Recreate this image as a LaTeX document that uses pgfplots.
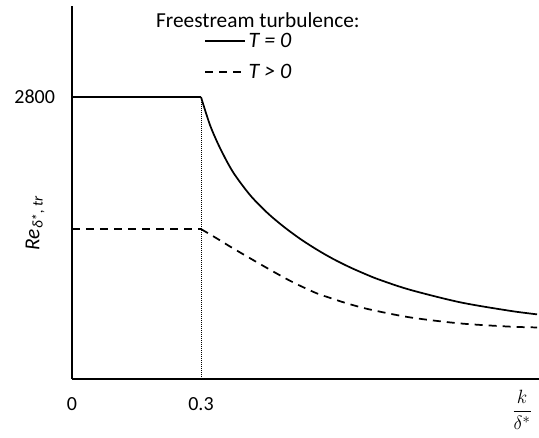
\documentclass[border=0pt]{standalone}
\usepackage{fontspec}
\setmainfont{Carlito}
\usepackage{pgfplots}
\pgfplotsset{compat=1.18}
\begin{document}
\begin{tikzpicture}
\useasboundingbox (0,0) rectangle (404.25pt,327.75pt);
\begin{axis}[
  at={(54pt,43.5pt)}, anchor=south west,
  scale only axis, width=350.25pt, height=279.75pt,
  xmin=0, xmax=1.086, ymin=0, ymax=3704,
  axis x line=bottom, axis y line=left,
  axis line style={-, line width=1.3pt},
  xtick={0,0.3}, xticklabels={0,0.3},
  ytick={2800}, yticklabels={2800},
  major tick length=0pt,
  /pgf/number format/assume math mode=true,
  tick label style={font=\fontsize{15}{17}\selectfont},
  xticklabel style={anchor=center, yshift=-18.75pt},
  yticklabel style={anchor=center, xshift=-28pt},
  xlabel={$\displaystyle\frac{k}{\delta^*}$},
  xlabel style={at={(axis description cs:0.964,-0.082)}, anchor=center, font=\fontsize{15.5}{18}\selectfont},
  ylabel={\itshape Re\textsubscript{δ*, tr}},
  ylabel style={at={(axis description cs:-0.079,0.418)}, anchor=center, rotate=0, font=\fontsize{16}{18}\selectfont},
  legend style={at={(axis description cs:0.274,0.942)}, anchor=north west, draw=none, fill=none,
    font=\fontsize{16.5}{19}\selectfont, row sep=7pt},
  legend cell align=left,
  legend image code/.code={\draw[#1] (0pt,0pt) -- (30pt,0pt);},
  clip=false,
]
\addplot[black, line width=1.3pt] coordinates {
(0,2800) (0.3,2800)};
\addlegendentry{\textit{T = 0}}
\addplot[black, line width=1.3pt, dash pattern=on 6pt off 4.5pt] coordinates {
(0,1489) (0.3,1489)};
\addlegendentry{\textit{T > 0}}
\addplot[black, line width=1.3pt, smooth, tension=0.5, forget plot] coordinates {
(0.3,2800) (0.3209,2522) (0.3442,2294) (0.3744,2055) (0.4140,1827) (0.4535,1653)
(0.4907,1518) (0.5302,1393) (0.5698,1284) (0.6070,1193) (0.6465,1109) (0.6860,1035)
(0.7163,984) (0.7860,886) (0.9023,762) (1.0186,677) (1.0814,642)};
\addplot[black, line width=1.3pt, dash pattern=on 6pt off 4.5pt, smooth, tension=0.5, forget plot] coordinates {
(0.3,1489) (0.3372,1395) (0.3744,1298) (0.4535,1102) (0.5109,967) (0.5651,858) (0.5953,812)
(0.6395,751) (0.6930,690) (0.7860,612) (0.9023,552) (1.0186,520) (1.0814,512)};
\addplot[black, line width=0.75pt, dash pattern=on 0.75pt off 0.75pt, forget plot] coordinates {
(0.3,0) (0.3,2800)};
\node[font=\fontsize{16}{18}\selectfont] at (axis description cs:0.398,0.962) {Freestream turbulence:};
\end{axis}
\end{tikzpicture}
\end{document}
